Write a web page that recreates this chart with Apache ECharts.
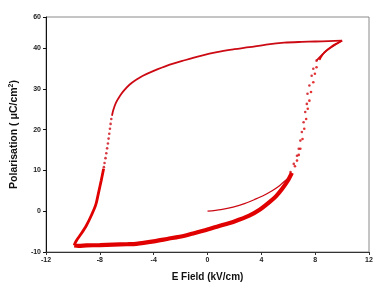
<!DOCTYPE html>
<html>
<head>
<meta charset="utf-8">
<script src="https://cdn.jsdelivr.net/npm/echarts@6/dist/echarts.min.js"></script>
<style>html,body{margin:0;padding:0;background:#fff}#c{width:381px;height:288px}</style>
</head>
<body>
<div id="c"></div>
<script>
// Axis ticks
var xMin = -12, xMax = 12, xStep = 4;
var yMin = -10, yMaxVal = 47.6, yStep = 10;
var yTopLabel = '60';

// Upper branch (descending field, dense part)
var upperBranch = [[10,41.8],[9,41.7],[8,41.6],[7,41.5],[5.7,41.3],[4.5,40.9],[3.1,40.2],[2,39.7],[0.7,39.0],[-0.5,38.1],[-1.7,37.0],[-3,35.7],[-4,34.4],[-4.8,33.2],[-5.3,32.2],[-5.8,31.0],[-6.2,29.6],[-6.5,28.3],[-6.8,26.6],[-7.0,24.8],[-7.1,23.4]];
// Upper branch switching (sparse points)
var upperSteep = [[-7.15,22.6],[-7.2,21.4],[-7.25,20.2],[-7.3,19.0],[-7.35,17.8],[-7.4,16.6],[-7.46,15.4],[-7.52,14.2],[-7.58,13.0],[-7.65,11.8],[-7.7,10.8]];
// Left descent to negative tip
var leftDescent = [[-7.72,10.4],[-7.9,7.5],[-8.1,4.5],[-8.3,1.6],[-8.6,-0.8],[-9.0,-3.5],[-9.4,-5.6],[-9.7,-7.0],[-9.85,-7.9],[-9.9,-8.4]];
// Lower branch (ascending field, dense part)
var lowerBranch = [[-9.9,-8.4],[-9.6,-8.5],[-9,-8.4],[-8,-8.3],[-7,-8.2],[-6,-8.1],[-5.3,-8.0],[-4,-7.4],[-3,-6.8],[-1.7,-6.0],[-1,-5.4],[0,-4.5],[0.7,-3.8],[2,-2.5],[3.1,-1.1],[3.9,0.4],[4.6,2.2],[5.1,3.7],[5.55,5.5],[5.95,7.4],[6.27,9.4]];
// Lower branch switching (sparse points)
var lowerSteep = [[6.5,11.0],[6.65,12.4],[6.78,13.8],[6.9,15.3],[7.06,17.7],[7.19,20.2],[7.33,22.6],[7.45,25.1],[7.57,27.1],[7.69,29.2],[7.86,31.6],[7.98,33.7],[8.1,35.3],[8.34,37.3]];
var lowerTop = [[8.34,37.3],[8.7,39.0],[9.2,40.3],[9.6,41.1],[10,41.8]];
// Initial (virgin) curve
var initialCurve = [[0,0],[1,0.4],[1.9,1.0],[2.8,1.9],[3.6,3.0],[4.2,3.9],[4.8,5.0],[5.3,6.1],[5.6,7.0],[5.93,7.9]];
var initialSteep = [[6.17,9.6],[6.41,11.6],[6.65,13.6],[6.78,15.3],[6.9,17.3],[7.01,19.4],[7.14,21.8],[7.26,24.3],[7.38,26.3],[7.43,28.8],[7.57,30.8],[7.74,33.2],[7.86,34.9],[8.1,36.9]];
var initialTop = [[8.1,36.9],[8.5,38.3],[8.9,39.5],[9.4,40.6],[10,41.8]];

var red = '#e00000';
var red2 = '#cc0a14';
function lineS(data, w, c) {
  return {type:'line', data:data, showSymbol:false, smooth:0.3, lineStyle:{color:c, width:w}, itemStyle:{color:c}, silent:true};
}
function dotS(data, c) {
  return {type:'scatter', data:data, symbol:'circle', symbolSize:2.6, itemStyle:{color:c}, silent:true};
}

var chart = echarts.init(document.getElementById('c'), null, {renderer:'canvas'});
var lblFont = {fontFamily:'Liberation Sans, Arial, sans-serif', fontSize:7, fontWeight:'bold', color:'#222'};
chart.setOption({
  animation:false,
  backgroundColor:'#fff',
  grid:{left:37, right:12, top:17, bottom:36, show:true, borderColor:'#8a8a8a', borderWidth:1},
  xAxis:{
    type:'value', min:xMin, max:xMax, interval:xStep,
    name:'E Field (kV/cm)', nameLocation:'middle', nameGap:20,
    nameTextStyle:{fontFamily:'Liberation Sans, Arial, sans-serif', fontSize:10, fontWeight:'bold', color:'#111'},
    axisLine:{show:true, onZero:false, lineStyle:{color:'#333', width:1}},
    axisTick:{show:true, length:3, lineStyle:{color:'#333'}},
    axisLabel:Object.assign({margin:5}, lblFont),
    splitLine:{show:false}
  },
  yAxis:{
    type:'value', min:yMin, max:yMaxVal, interval:yStep,
    name:'Polarisation ( μC/cm{s|2})', nameLocation:'middle', nameGap:16,
    nameTextStyle:{fontFamily:'Liberation Sans, Arial, sans-serif', fontSize:10.5, fontWeight:'bold', color:'#111',
      rich:{s:{fontSize:7, fontWeight:'bold', verticalAlign:'top', padding:[0,0,6,0], fontFamily:'Liberation Sans, Arial, sans-serif', color:'#111'}}},
    axisLine:{show:true, onZero:false, lineStyle:{color:'#111', width:1}},
    axisTick:{show:true, length:3, lineStyle:{color:'#111'}},
    axisLabel:Object.assign({margin:5, formatter:function(v){return v > yMaxVal - 1 ? yTopLabel : String(v);}}, lblFont),
    splitLine:{show:false}
  },
  series:[
    lineS(lowerBranch, 4.2, red),
    lineS(leftDescent, 2.8, red),
    lineS(upperBranch, 1.8, red2),
    dotS(upperSteep, red2),
    dotS(lowerSteep, red),
    lineS(lowerTop, 1.8, red),
    lineS(initialCurve, 1.3, red2),
    dotS(initialSteep, red2),
    lineS(initialTop, 1.6, red2)
  ]
});
</script>
</body>
</html>
